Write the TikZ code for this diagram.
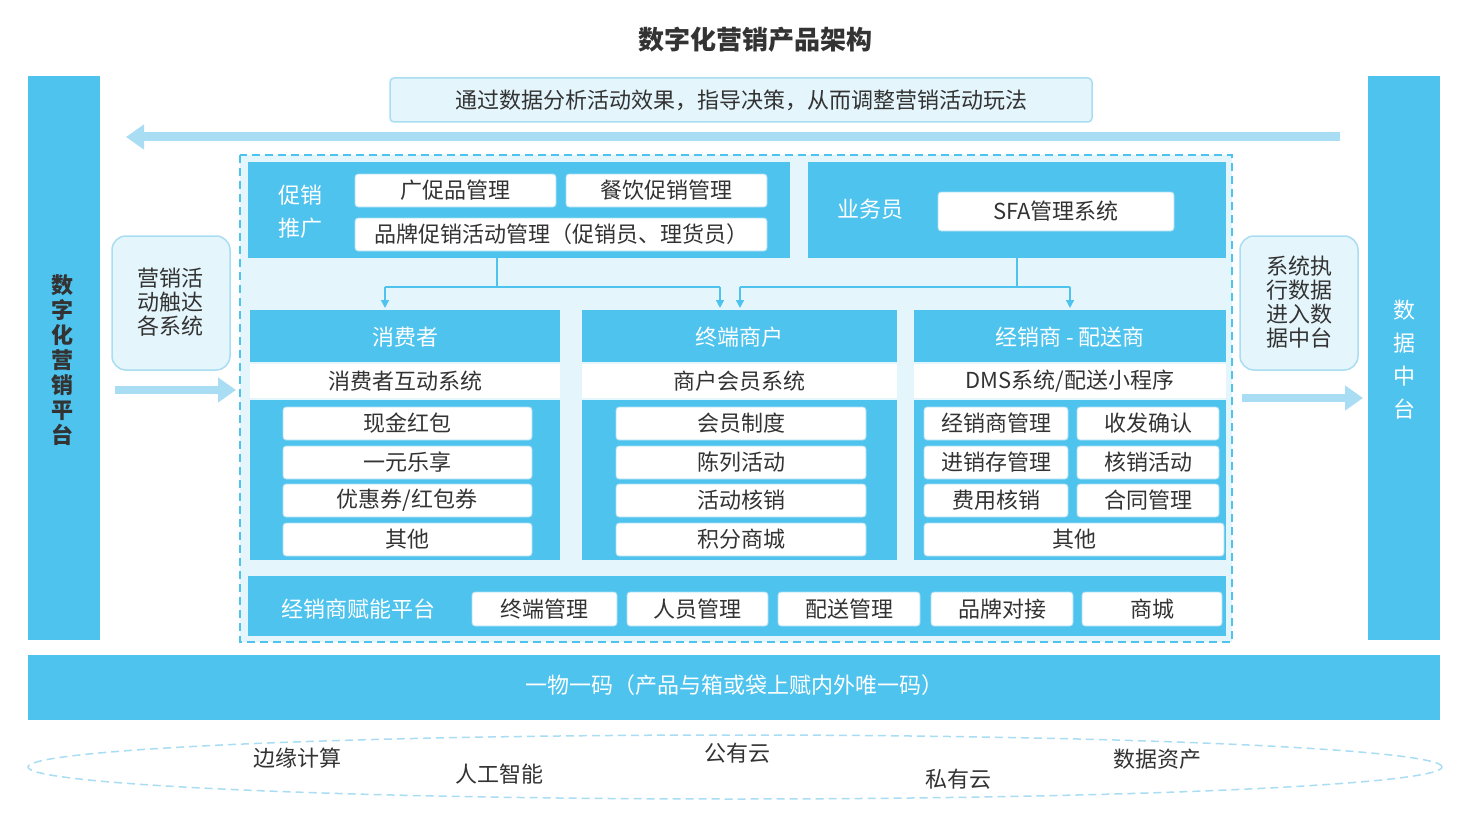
\documentclass[tikz,border=0pt]{standalone}
\usepackage{fontspec}
\setmainfont{Noto Sans CJK SC}
\usetikzlibrary{arrows.meta}
\definecolor{mb}{HTML}{4DC3EE}
\definecolor{lb}{HTML}{E4F5FC}
\definecolor{sb}{HTML}{A9DDF3}
\definecolor{tx}{HTML}{333333}
\begin{document}
\begin{tikzpicture}[x=1pt,y=-1pt,
 blue/.style={fill=mb,draw=none},
 wb/.style={fill=white,draw=sb,line width=0.8pt,rounded corners=3pt},
 t/.style={font=\fontsize{22}{24}\selectfont,text=tx,inner sep=0},
 wt/.style={font=\fontsize{22}{24}\selectfont,text=white,inner sep=0},
 conn/.style={draw=mb,line width=1.5pt},
 arr/.style={conn,-{Triangle[length=8pt,width=8pt]}},
 fat/.style={draw=sb,line width=9pt,-{Triangle[length=18pt,width=24pt]}},
 side/.style={fill=lb,draw=sb,line width=1.5pt,rounded corners=14pt}]
\useasboundingbox (0,0) rectangle (1478,824);
\fill[white] (0,0) rectangle (1478,824);
\node[font=\fontsize{26}{28}\selectfont\bfseries,text=tx] (title) at (755,40) {数字化营销产品架构};
% side bars
\fill[blue] (28,76) rectangle (100,640);
\node[font=\fontsize{22}{25}\selectfont\bfseries,text=tx,align=center] (lbar) at (62,360) {数\\字\\化\\营\\销\\平\\台};
\fill[blue] (1368,76) rectangle (1440,640);
\node[font=\fontsize{22}{33}\selectfont,text=white,align=center] (rbar) at (1404,360) {数\\据\\中\\台};
% banner
\draw[fill=lb,draw=sb,line width=1.5pt,rounded corners=4pt] (390,78) rectangle (1092,122);
\node[t] (banner) at (741,100) {通过数据分析活动效果，指导决策，从而调整营销活动玩法};
\coordinate (fa1) at (1340,137); \coordinate (fa2) at (126,137);
\draw[fat] (fa1) -- (fa2);
% dashed container
\fill[lb] (240,155) rectangle (1232,642);
\draw[mb,dashed,line width=1.5pt,dash pattern=on 8pt off 5pt] (240,155) rectangle (1232,642);
% promo panel
\fill[blue] (248,162) rectangle (790,258);
\node[wt,align=center,font=\fontsize{22}{33}\selectfont] (promo) at (300,212) {促销\\推广};
\draw[wb] (355,174) rectangle (556,207); \node[t] (p1) at (455,190) {广促品管理};
\draw[wb] (566,174) rectangle (767,207); \node[t] (p2) at (666,190) {餐饮促销管理};
\draw[wb] (355,218) rectangle (767,251); \node[t] (p3) at (561,234) {品牌促销活动管理（促销员、理货员）};
% salesman
\fill[blue] (808,162) rectangle (1226,258);
\node[wt] (sm) at (870,209) {业务员};
\draw[wb] (938,192) rectangle (1174,231); \node[t] (sfa) at (1056,211) {SFA管理系统};
% connectors
\coordinate (a0) at (497,258); \coordinate (a1) at (497,287);
\coordinate (a2) at (385,287); \coordinate (a3) at (720,287);
\coordinate (a4) at (385,308); \coordinate (a5) at (720,308);
\draw[conn] (a0) -- (a1); \draw[conn] (a2) -- (a3);
\draw[arr] (a2) -- (a4); \draw[arr] (a3) -- (a5);
\coordinate (b0) at (1017,258); \coordinate (b1) at (1017,287);
\coordinate (b2) at (740,287); \coordinate (b3) at (1070,287);
\coordinate (b4) at (740,308); \coordinate (b5) at (1070,308);
\draw[conn] (b0) -- (b1); \draw[conn] (b2) -- (b3);
\draw[arr] (b2) -- (b4); \draw[arr] (b3) -- (b5);
% columns
\foreach \x/\w/\h/\s in {250/310/消费者/消费者互动系统, 582/315/终端商户/商户会员系统, 914/312/经销商 - 配送商/{DMS系统/配送小程序}}{
  \fill[blue] (\x,310) rectangle ++(\w,52);
  \fill[white] (\x,364) rectangle ++(\w,34);
  \fill[blue] (\x,400) rectangle ++(\w,160);
  \node[wt] at (\x+\w/2,337) {\h};
  \node[t] at (\x+\w/2,381) {\s};
}
\foreach \y/\a/\b in {407/现金红包/会员制度, 446/一元乐享/陈列活动, 484/{优惠券/红包券}/活动核销, 523/其他/积分商城}{
  \draw[wb] (283,\y) rectangle (532,\y+33); \node[t] at (407,\y+16) {\a};
  \draw[wb] (616,\y) rectangle (866,\y+33); \node[t] at (741,\y+16) {\b};
}
\foreach \y/\a/\b in {407/经销商管理/收发确认, 446/进销存管理/核销活动, 484/费用核销/合同管理}{
  \draw[wb] (924,\y) rectangle (1068,\y+33); \node[t] at (996,\y+16) {\a};
  \draw[wb] (1077,\y) rectangle (1219,\y+33); \node[t] at (1148,\y+16) {\b};
}
\draw[wb] (924,523) rectangle (1224,556); \node[t] (other3) at (1074,539) {其他};
% enabling platform
\fill[blue] (248,576) rectangle (1226,636);
\node[wt] (plat) at (358,609) {经销商赋能平台};
\foreach \a/\b/\s in {472/617/终端管理, 627/768/人员管理, 778/920/配送管理, 931/1073/品牌对接, 1082/1222/商城}{
  \draw[wb] (\a,592) rectangle (\b,626); \node[t] at ({(\a+\b)/2},609) {\s};
}
% side boxes
\draw[side] (112,236) rectangle (230,370);
\node[t,align=center,font=\fontsize{22}{24}\selectfont] (lside) at (170,302) {营销活\\动触达\\各系统};
\coordinate (la1) at (115,390); \coordinate (la2) at (236,390);
\draw[fat,line width=8pt] (la1) -- (la2);
\draw[side] (1240,236) rectangle (1358,370);
\node[t,align=center,font=\fontsize{22}{24}\selectfont] (rside) at (1299,302) {系统执\\行数据\\进入数\\据中台};
\coordinate (ra1) at (1242,398); \coordinate (ra2) at (1363,398);
\draw[fat,line width=8pt] (ra1) -- (ra2);
% bottom bar
\fill[blue] (28,655) rectangle (1440,720);
\node[wt] (code) at (734,685) {一物一码（产品与箱或袋上赋内外唯一码）};
% ellipse
\draw[sb,dashed,line width=1.5pt,dash pattern=on 8pt off 5pt] (735,767) ellipse (707pt and 32pt);
\node[t] (e1) at (297,758) {边缘计算};
\node[t] (e2) at (499,774) {人工智能};
\node[t] (e3) at (737,753) {公有云};
\node[t] (e4) at (958,779) {私有云};
\node[t] (e5) at (1157,759) {数据资产};
\end{tikzpicture}
\end{document}
